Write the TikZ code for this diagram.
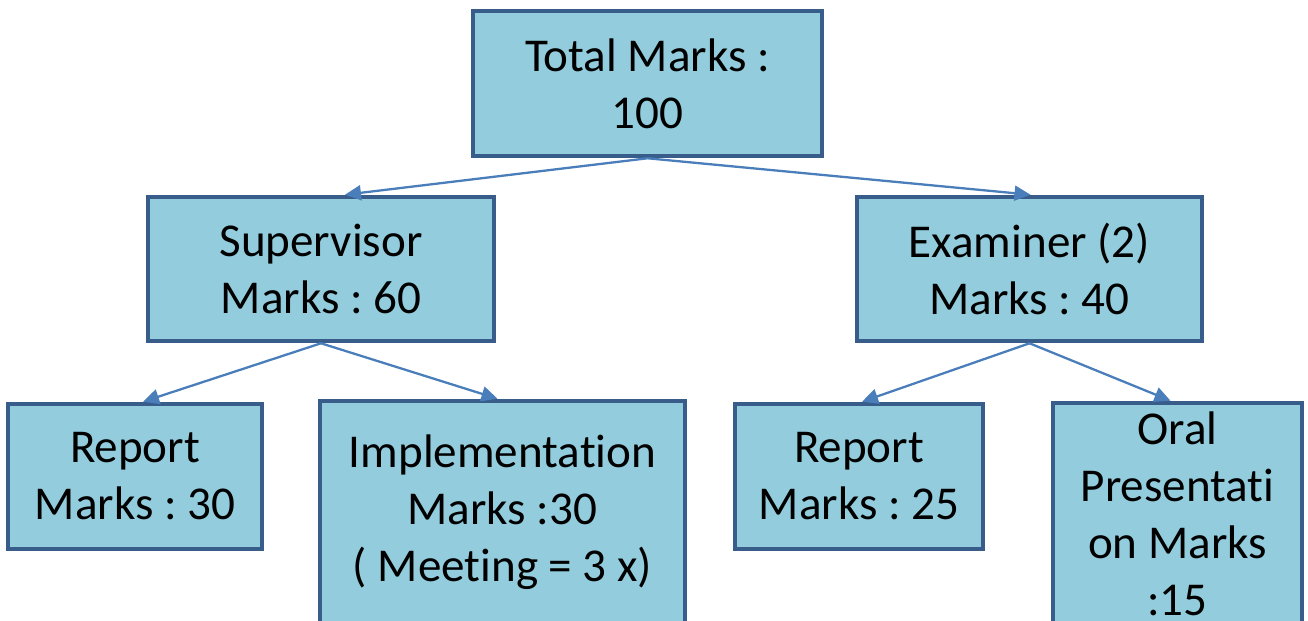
\documentclass[tikz,border=0pt]{standalone}
\usepackage{fontspec}
\setmainfont[Ligatures={NoCommon,NoRare,NoContextual}]{Carlito}
\usetikzlibrary{arrows.meta}
\definecolor{boxfill}{HTML}{93CDDD}
\definecolor{boxline}{HTML}{385D8A}
\definecolor{arrowline}{HTML}{4A7EBB}
\tikzset{
    markbox/.style={draw=boxline, fill=boxfill, line width=2.6pt, align=center,
        inner sep=0pt, font=\fontsize{26.8}{32.4}\selectfont},
    markarrow/.style={draw=arrowline, line width=1.3pt,
        -{Triangle[length=0.32cm, width=0.3cm]}}
}
\frenchspacing
\begin{document}
\begin{tikzpicture}
    \useasboundingbox (0, 0) rectangle (26.16, -12.42);

    % Top level
    \node[markbox, minimum width=6.98cm, minimum height=2.9cm] (total) at (12.95, -1.67) {Total Marks :\\100};

    % Second level
    \node[markbox, minimum width=6.92cm, minimum height=2.88cm] (super) at (6.42, -5.38) {Supervisor\\Marks : 60};
    \node[markbox, minimum width=6.9cm, minimum height=2.88cm] (exam) at (20.59, -5.38) {Examiner (2)\\Marks : 40};

    % Third level
    \node[markbox, minimum width=5.08cm, minimum height=2.9cm] (reportS) at (2.7, -9.53) {Report\\Marks : 30};
    \node[markbox, minimum width=7.3cm, minimum height=4.44cm] (impl) at (10.05, -10.24) {Implementat\kern0pt ion\\Marks :30\\( Meeting = 3 x)};
    \node[markbox, minimum width=4.96cm, minimum height=2.9cm] (reportE) at (17.18, -9.53) {Report\\Marks : 25};
    \node[markbox, minimum width=4.98cm, minimum height=4.42cm] (oral) at (23.55, -10.27) {Oral\\Presentat\kern0pt i\\on Marks\\:15};

    % Connectors
    \draw[markarrow] (total.south) -- ([xshift=0.48cm]super.north);
    \draw[markarrow] (total.south) -- ([xshift=0.02cm]exam.north);
    \draw[markarrow] (super.south) -- ([xshift=0.16cm]reportS.north);
    \draw[markarrow] (super.south) -- ([xshift=-0.1cm]impl.north);
    \draw[markarrow] (exam.south) -- ([xshift=0.06cm]reportE.north);
    \draw[markarrow] (exam.south) -- ([xshift=-0.14cm]oral.north);
\end{tikzpicture}
\end{document}
